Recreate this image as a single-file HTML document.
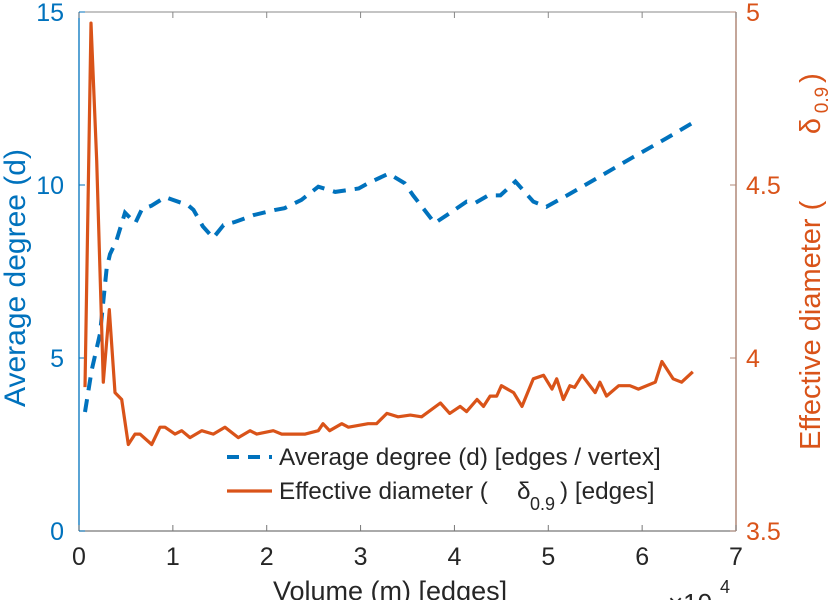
<!DOCTYPE html>
<html><head><meta charset="utf-8">
<style>
html,body{margin:0;padding:0;background:#fff;}
svg{display:block;font-family:"Liberation Sans",sans-serif;}
text{white-space:pre;}
</style></head>
<body>
<svg id="chart" width="838" height="600" viewBox="0 0 838 600">
<g id="axes"></g>
<g id="plot"></g>
</svg>
<script>
const xTicks = [0,1,2,3,4,5,6,7];
const leftTicks = [0,5,10,15];
const rightTicks = [3.5,4,4.5,5];
const rightTickLabels = ["3.5","4","4.5","5"];
const degX = [0.064,0.135,0.224,0.295,0.33,0.40,0.49,0.60,0.67,0.77,0.92,1.0,1.16,1.22,1.32,1.43,1.54,1.66,1.86,2.09,2.19,2.37,2.55,2.73,2.98,3.08,3.30,3.47,3.56,3.79,3.92,4.13,4.22,4.36,4.49,4.65,4.84,4.98,5.20,5.52,5.90,6.26,6.54];
const degY = [3.44,4.65,5.7,7.6,8.0,8.4,9.2,8.9,9.3,9.4,9.65,9.57,9.42,9.28,8.8,8.47,8.84,8.93,9.13,9.28,9.33,9.57,9.95,9.8,9.9,10.05,10.33,10.05,9.7,8.9,9.13,9.52,9.48,9.7,9.7,10.1,9.52,9.37,9.7,10.2,10.8,11.35,11.8];
const diaX = [0.064,0.128,0.189,0.259,0.323,0.384,0.455,0.525,0.597,0.65,0.775,0.863,0.916,1.023,1.094,1.183,1.307,1.431,1.555,1.697,1.822,1.893,2.07,2.16,2.41,2.55,2.60,2.67,2.80,2.87,3.08,3.17,3.28,3.40,3.53,3.65,3.85,3.95,4.06,4.13,4.24,4.31,4.38,4.45,4.50,4.63,4.72,4.84,4.95,5.04,5.09,5.16,5.23,5.28,5.36,5.50,5.55,5.62,5.75,5.87,5.96,6.14,6.21,6.33,6.42,6.54];
const diaY = [3.916,4.968,4.57,3.93,4.14,3.90,3.88,3.75,3.78,3.78,3.75,3.80,3.80,3.78,3.79,3.77,3.79,3.78,3.80,3.77,3.79,3.78,3.79,3.78,3.78,3.79,3.81,3.79,3.81,3.80,3.81,3.81,3.84,3.83,3.835,3.83,3.87,3.84,3.86,3.845,3.88,3.86,3.89,3.89,3.92,3.90,3.86,3.94,3.95,3.91,3.94,3.88,3.92,3.915,3.95,3.90,3.93,3.89,3.92,3.92,3.91,3.93,3.99,3.94,3.93,3.96];

const X0=79, X1=736, YT=12, YB=531;
const xs = v => X0 + (v-0)/(7-0)*(X1-X0);
const yl = v => YB - (v-0)/(15-0)*(YB-YT);
const yr = v => YB - (v-3.5)/(5-3.5)*(YB-YT);
const NS="http://www.w3.org/2000/svg";
function mk(tag, attrs, parent, text){
  const e=document.createElementNS(NS,tag);
  for(const k in attrs) e.setAttribute(k,attrs[k]);
  if(text!==undefined) e.textContent=text;
  parent.appendChild(e); return e;
}
const axes=document.getElementById('axes'), plot=document.getElementById('plot');
const BLUE="#0072BD", ORANGE="#D95319", GREY="#262626";

let e;
e=mk('line',{x1:X0,y1:YT,x2:X1,y2:YT,stroke:"#888",'stroke-width':1},axes);


e=mk('line',{x1:X0,y1:YB,x2:X1,y2:YB,stroke:"#777",'stroke-width':1.3},axes);


e=mk('line',{x1:X0,y1:YT,x2:X0,y2:YB,stroke:BLUE,'stroke-width':1.3},axes);


e=mk('line',{x1:X1,y1:YT,x2:X1,y2:YB,stroke:"#b08878",'stroke-width':1.5},axes);



xTicks.forEach(t=>{
  const x=xs(t);
  e=mk('line',{x1:x,y1:YB,x2:x,y2:YB-6,stroke:"#777"},axes);
  
  
  e=mk('line',{x1:x,y1:YT,x2:x,y2:YT+6,stroke:"#888"},axes);
  
  
  e=mk('text',{x:x,y:YB+34,'font-size':25,fill:GREY,'text-anchor':'middle'},axes,String(t));
  
  
});
leftTicks.forEach(t=>{
  const y=yl(t);
  e=mk('line',{x1:X0,y1:y,x2:X0+6,y2:y,stroke:BLUE},axes);
  
  
  e=mk('text',{x:X0-15,y:y+9,'font-size':25,fill:BLUE,'text-anchor':'end'},axes,String(t));
  
  
});
rightTicks.forEach((t,i)=>{
  const y=yr(t);
  e=mk('line',{x1:X1,y1:y,x2:X1-6,y2:y,stroke:"#b08878"},axes);
  
  
  e=mk('text',{x:X1+10,y:y+9,'font-size':25,fill:ORANGE,'text-anchor':'start'},axes,rightTickLabels[i]);
  
  
});
e=mk('text',{x:273,y:600,'font-size':27,fill:GREY},axes,"Volume (m) [edges]");


e=mk('text',{x:668,y:612,'font-size':26,fill:GREY},axes,"×10");


e=mk('text',{x:720,y:593,'font-size':18,fill:GREY},axes,"4");


e=mk('text',{x:0,y:0,'font-size':30,fill:BLUE,'text-anchor':'middle',transform:'translate(25,278) rotate(-90)'},axes,"Average degree (d)");


e=mk('text',{x:0,y:0,'font-size':29,fill:ORANGE,'text-anchor':'start',transform:'translate(820,450) rotate(-90)'},axes,"Effective diameter (");


e=mk('text',{x:0,y:0,'font-size':29,fill:ORANGE,'text-anchor':'middle',transform:'translate(820,126) rotate(-90)'},axes,"δ");


e=mk('text',{x:0,y:0,'font-size':19,fill:ORANGE,'text-anchor':'middle',transform:'translate(828,100) rotate(-90)'},axes,"0.9");


e=mk('text',{x:0,y:0,'font-size':29,fill:ORANGE,'text-anchor':'middle',transform:'translate(820,78) rotate(-90)'},axes,")");



const degPts=degX.map((v,i)=>xs(v).toFixed(1)+","+yl(degY[i]).toFixed(1)).join(" ");
e=mk('polyline',{points:degPts,fill:'none',stroke:BLUE,'stroke-width':4,'stroke-dasharray':'13,9'},plot);


const diaPts=diaX.map((v,i)=>xs(v).toFixed(1)+","+yr(diaY[i]).toFixed(1)).join(" ");
e=mk('polyline',{points:diaPts,fill:'none',stroke:ORANGE,'stroke-width':3.2,'stroke-linejoin':'round'},plot);



const lg=mk('g',{},plot);


e=mk('line',{x1:227,y1:457,x2:272,y2:457,stroke:BLUE,'stroke-width':4,'stroke-dasharray':'12,9'},lg);


e=mk('text',{x:279,y:465,'font-size':24.3,fill:GREY},lg,"Average degree (d) [edges / vertex]");


e=mk('line',{x1:227,y1:491,x2:272,y2:491,stroke:ORANGE,'stroke-width':3.2},lg);


e=mk('text',{x:279,y:499,'font-size':24.3,fill:GREY},lg,"Effective diameter (");


e=mk('text',{x:517,y:499,'font-size':24.3,fill:GREY},lg,"δ");


e=mk('text',{x:530,y:510,'font-size':18,fill:GREY},lg,"0.9");


e=mk('text',{x:560,y:499,'font-size':24.3,fill:GREY},lg,") [edges]");


</script>
</body></html>
